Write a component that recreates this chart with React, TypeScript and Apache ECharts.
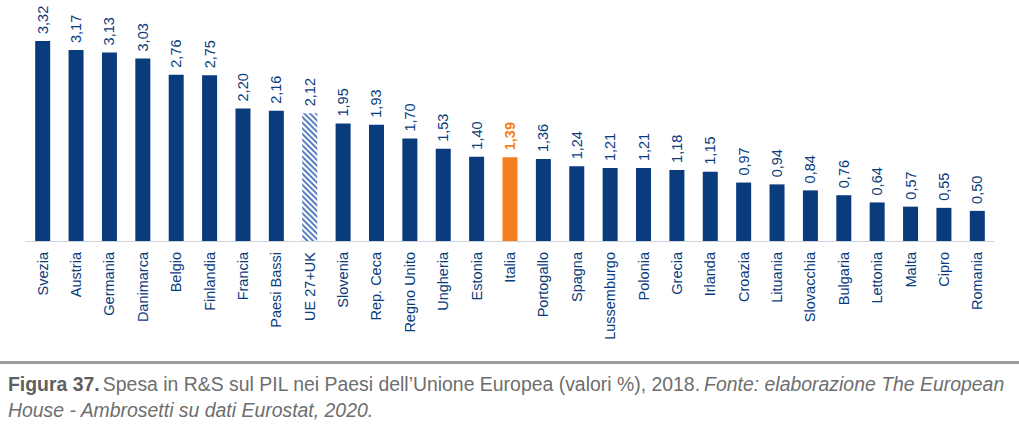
import React, { useEffect, useRef } from "react";
import * as echarts from "echarts";

const categories = [
  "Svezia", "Austria", "Germania", "Danimarca", "Belgio", "Finlandia", "Francia",
  "Paesi Bassi", "UE 27+UK", "Slovenia", "Rep. Ceca", "Regno Unito", "Ungheria",
  "Estonia", "Italia", "Portogallo", "Spagna", "Lussemburgo", "Polonia", "Grecia",
  "Irlanda", "Croazia", "Lituania", "Slovacchia", "Bulgaria", "Lettonia", "Malta",
  "Cipro", "Romania",
];
const values = [
  3.32, 3.17, 3.13, 3.03, 2.76, 2.75, 2.2, 2.16, 2.12, 1.95, 1.93, 1.7, 1.53,
  1.4, 1.39, 1.36, 1.24, 1.21, 1.21, 1.18, 1.15, 0.97, 0.94, 0.84, 0.76, 0.64,
  0.57, 0.55, 0.5,
];
const highlightCategory = "Italia";
const averageCategory = "UE 27+UK";

const NAVY = "#0a3b7d";
const ORANGE = "#f47f20";
const FONT = "'Liberation Sans', Arial, sans-serif";

export default function App() {
  const ref = useRef<HTMLDivElement>(null);
  useEffect(() => {
    if (!ref.current) return;
    const chart = echarts.init(ref.current, undefined, { renderer: "svg" });
    const data = values.map((v, i) => {
      const cat = categories[i];
      if (cat === highlightCategory) {
        return {
          value: v,
          itemStyle: { color: ORANGE },
          label: { color: ORANGE, fontWeight: "bold" as const },
        };
      }
      if (cat === averageCategory) {
        return {
          value: v,
          itemStyle: {
            color: "#ffffff",
            decal: {
              symbol: "rect",
              symbolSize: 1,
              dashArrayX: [[1, 0]],
              dashArrayY: [1.5, 2],
              rotation: Math.PI / 4,
              color: "#5a7fbe",
              backgroundColor: "#ffffff",
            },
          },
        };
      }
      return { value: v };
    });
    chart.setOption({
      animation: false,
      grid: { left: 26, right: 25, top: 0, height: 241, containLabel: false },
      xAxis: {
        type: "category",
        data: categories,
        axisLine: { lineStyle: { color: "#cfd3da", width: 1 } },
        axisTick: { show: false },
        axisLabel: {
          rotate: 90,
          interval: 0,
          margin: 11,
          color: NAVY,
          fontFamily: FONT,
          fontSize: 14.5,
        },
      },
      yAxis: {
        type: "value",
        min: 0,
        max: 4,
        show: false,
        splitLine: { show: false },
      },
      series: [
        {
          type: "bar",
          data,
          barWidth: 15,
          itemStyle: { color: NAVY },
          label: {
            show: true,
            position: "top",
            rotate: 90,
            align: "left",
            verticalAlign: "middle",
            distance: 7,
            color: NAVY,
            fontFamily: FONT,
            fontSize: 14.5,
            formatter: (p: any) => Number(p.value).toFixed(2).replace(".", ","),
          },
        },
      ],
      graphic: [
        {
          type: "rect",
          shape: { x: 0, y: 361, width: 1019, height: 3 },
          style: { fill: "#9c9c9c" },
        },
        {
          type: "text",
          x: 8,
          y: 371,
          scaleX: 0.925,
          style: {
            text: "{b|Figura 37.} {n|Spesa in R&S sul PIL nei Paesi dell\u2019Unione Europea (valori %), 2018.} {i|Fonte: elaborazione The European}\n{i|House - Ambrosetti su dati Eurostat, 2020.}",
            rich: {
              b: { fontFamily: FONT, fontSize: 21, fontWeight: "bold", fill: "#5f5f5f", lineHeight: 26 },
              n: { fontFamily: FONT, fontSize: 21, fill: "#6e6e6e", lineHeight: 26 },
              i: { fontFamily: FONT, fontSize: 21, fontStyle: "italic", fill: "#6e6e6e", lineHeight: 26 },
            },
          },
        },
      ],
    });
    return () => chart.dispose();
  }, []);
  return (
    <div
      ref={ref}
      style={{ position: "fixed", left: 0, top: 0, width: 1019, height: 432, background: "#fff" }}
    />
  );
}
